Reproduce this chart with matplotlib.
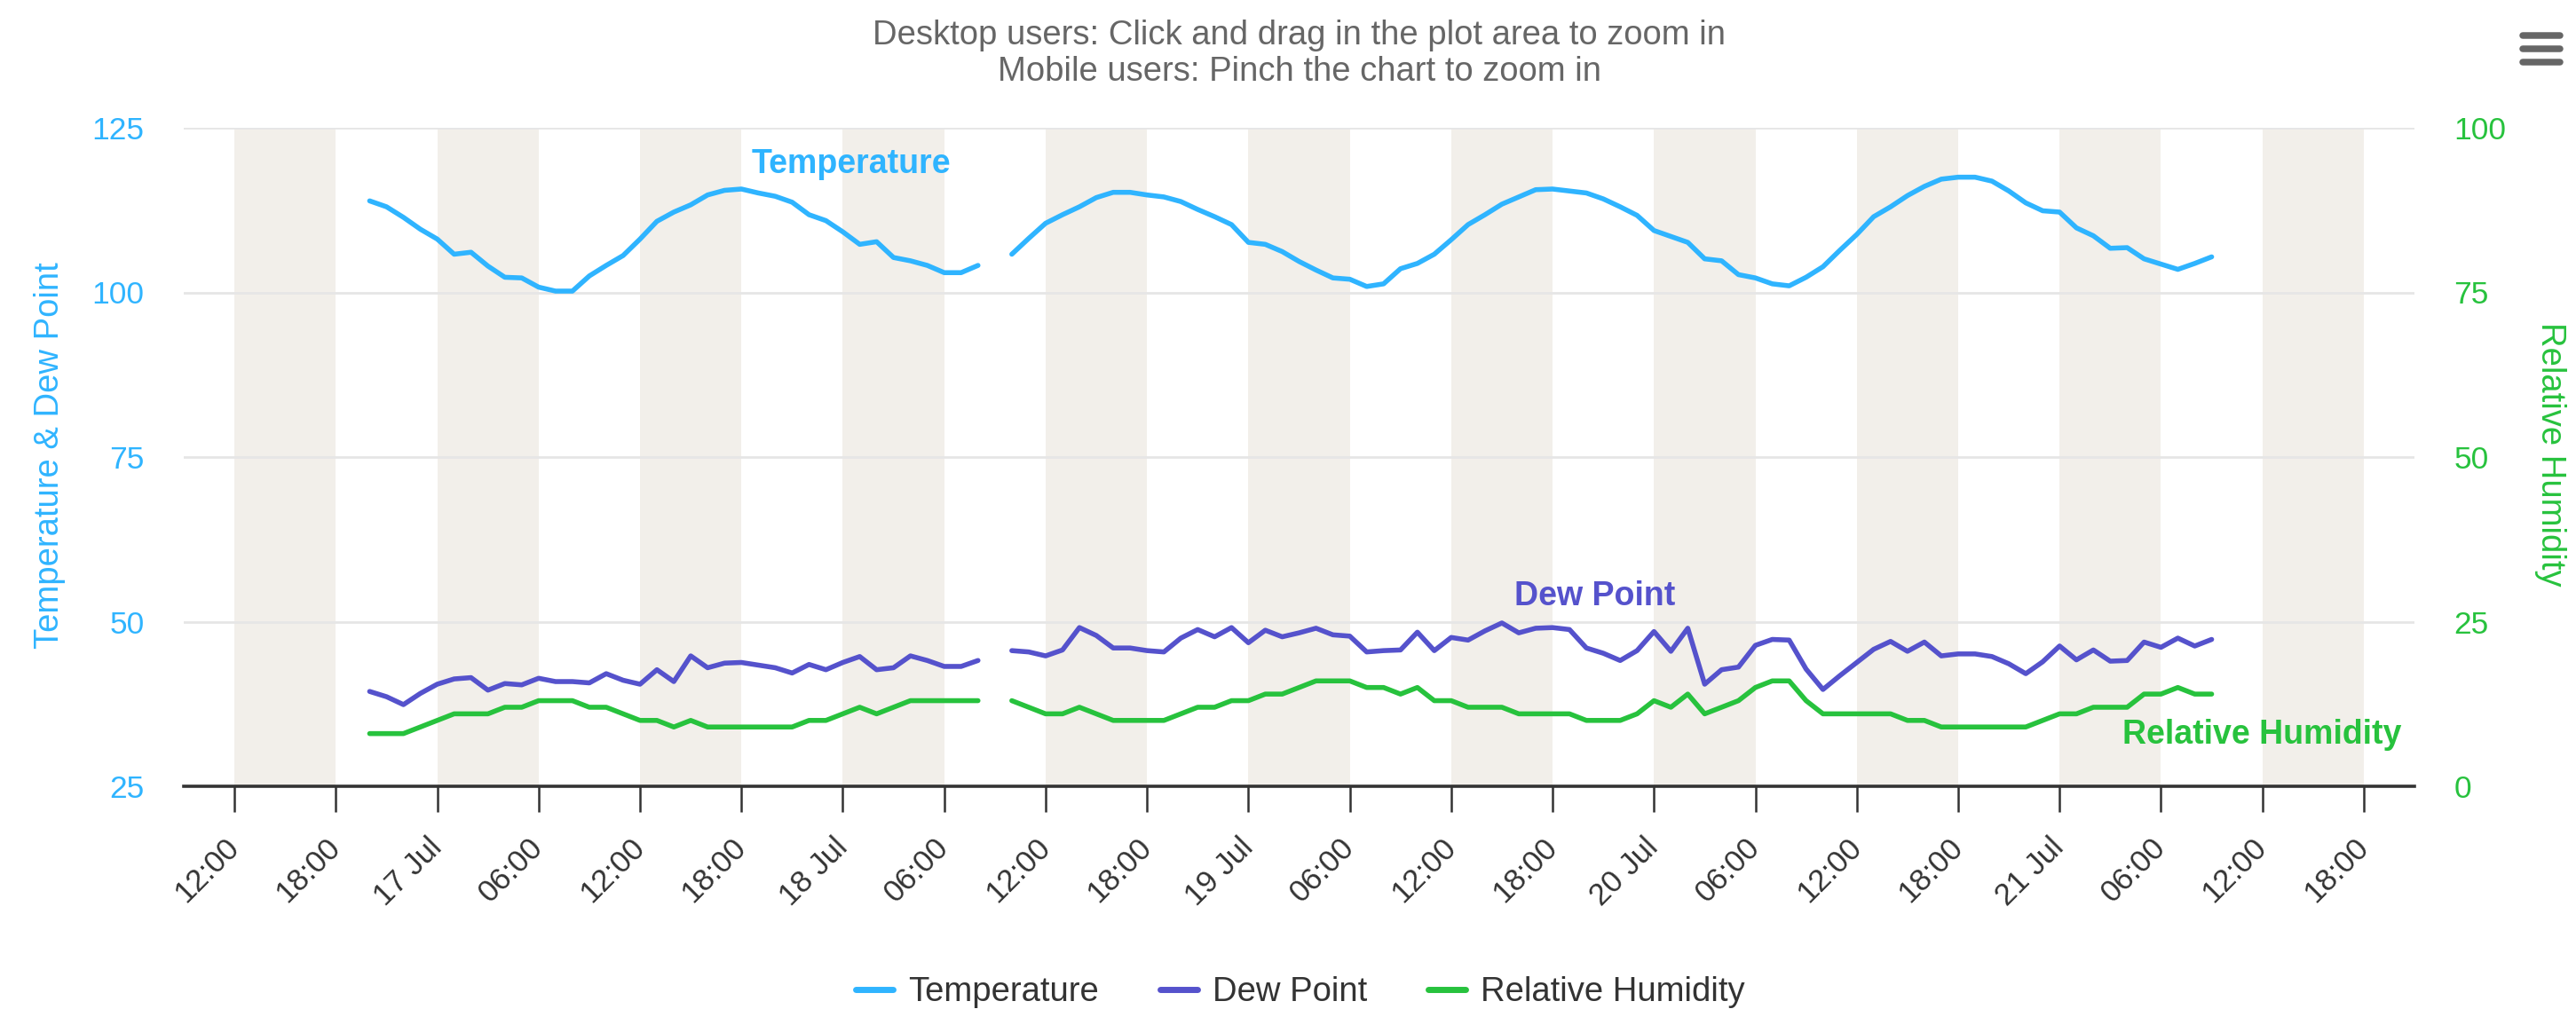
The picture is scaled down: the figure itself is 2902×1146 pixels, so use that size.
import numpy as np
import pandas as pd
import matplotlib
matplotlib.use('Agg')
import matplotlib.pyplot as plt
from matplotlib.lines import Line2D

plt.rcParams['font.family'] = ['Liberation Sans', 'DejaVu Sans']

nan = np.nan

# hourly readings, 16 Jul 20:00 -> 21 Jul 09:00 (18 Jul 09:00 missing)
times = pd.date_range('2024-07-16 20:00', '2024-07-21 09:00', freq='h')

temperature = [
    113.9, 113.0, 111.4, 109.6, 108.1, 105.8, 106.1, 104.0, 102.3, 102.2,
    100.8, 100.2, 100.2, 102.5, 104.1, 105.6, 108.1, 110.8, 112.2, 113.3,
    114.8, 115.5, 115.7, 115.1, 114.6, 113.7, 111.8, 110.9, 109.2, 107.3,
    107.7, 105.3, 104.8, 104.1, 103.0, 103.0, 104.1,
    nan,
    105.8, 108.2, 110.5, 111.8, 113.0, 114.4, 115.2, 115.2, 114.8, 114.5,
    113.8, 112.6, 111.5, 110.3, 107.6, 107.3, 106.2, 104.7, 103.4, 102.2,
    102.0, 100.9, 101.3, 103.6, 104.4, 105.8, 108.0, 110.3, 111.8, 113.4,
    114.5, 115.6, 115.7, 115.4, 115.1, 114.2, 113.0, 111.7, 109.4, 108.5,
    107.6, 105.1, 104.8, 102.7, 102.2, 101.3, 101.0, 102.3, 103.9, 106.4,
    108.8, 111.5, 113.0, 114.7, 116.1, 117.2, 117.5, 117.5, 116.9, 115.4,
    113.6, 112.4, 112.2, 109.8, 108.6, 106.7, 106.8, 105.1, 104.3, 103.5,
    104.4, 105.4,
]

dew_point = [
    39.4, 38.6, 37.4, 39.1, 40.5, 41.3, 41.5, 39.6, 40.6, 40.4,
    41.4, 40.9, 40.9, 40.7, 42.1, 41.1, 40.5, 42.7, 40.9, 44.8,
    43.0, 43.7, 43.8, 43.4, 43.0, 42.2, 43.5, 42.7, 43.8, 44.7,
    42.7, 43.0, 44.8, 44.1, 43.2, 43.2, 44.1,
    nan,
    45.6, 45.4, 44.8, 45.7, 49.1, 47.9, 46.0, 46.0, 45.6, 45.4,
    47.5, 48.8, 47.7, 49.1, 46.8, 48.7, 47.7, 48.3, 49.0, 48.0,
    47.8, 45.4, 45.6, 45.7, 48.4, 45.6, 47.6, 47.2, 48.6, 49.8,
    48.3, 49.0, 49.1, 48.8, 46.0, 45.2, 44.1, 45.6, 48.5, 45.5,
    49.0, 40.5, 42.7, 43.1, 46.4, 47.3,
    47.2, 42.8, 39.7, 41.8, 43.8, 45.8, 47.0, 45.5, 46.9, 44.8,
    45.1, 45.1, 44.7, 43.6, 42.1, 43.9, 46.3, 44.2, 45.7, 44.0,
    44.1, 46.9, 46.1, 47.5, 46.3, 47.3,
]

humidity = [
    8, 8, 8, 9, 10, 11, 11, 11, 12, 12,
    13, 13, 13, 12, 12, 11, 10, 10, 9, 10,
    9, 9, 9, 9, 9, 9, 10, 10, 11, 12,
    11, 12, 13, 13, 13, 13, 13,
    nan,
    13, 12, 11, 11, 12, 11, 10, 10, 10, 10,
    11, 12, 12, 13, 13, 14, 14, 15, 16, 16,
    16, 15, 15, 14, 15, 13, 13, 12, 12, 12,
    11, 11, 11, 11, 10, 10, 10, 11, 13, 12,
    14, 11, 12, 13, 15, 16,
    16, 13, 11, 11, 11, 11, 11, 10, 10, 9,
    9, 9, 9, 9, 9, 10, 11, 11, 12, 12,
    12, 14, 14, 15, 14, 14,
]

left_ticks = [25, 50, 75, 100, 125]
right_ticks = [0, 25, 50, 75, 100]
x_ticks = pd.date_range('2024-07-16 12:00', '2024-07-21 18:00', freq='6h')
band_starts = pd.date_range('2024-07-16 12:00', '2024-07-21 12:00', freq='12h')

temp_color = '#2fb4ff'
dew_color = '#5552cc'
rh_color = '#27c23d'
band_color = '#f2efea'
text_dark = '#333333'

W, H = 2902, 1146
fig = plt.figure(figsize=(W / 100, H / 100), dpi=100)
ax = fig.add_axes([207 / W, 1 - 886 / H, (2720 - 207) / W, (886 - 144) / H])
ax2 = ax.twinx()

# alternating 6h plot bands
for b in band_starts:
    ax.axvspan(b, b + pd.Timedelta(hours=6), color=band_color, lw=0, zorder=0)

line_kw = dict(lw=4.0, solid_joinstyle='round', solid_capstyle='round')
ax.plot(times, temperature, color=temp_color, zorder=3, **line_kw)
ax.plot(times, dew_point, color=dew_color, zorder=3, **line_kw)
ax2.plot(times, humidity, color=rh_color, zorder=3, **line_kw)

ax.set_xlim(pd.Timestamp('2024-07-16 09:00'), pd.Timestamp('2024-07-21 21:00'))
ax.set_ylim(25, 125)
ax2.set_ylim(0, 100)
ax.set_yticks(left_ticks)
ax2.set_yticks(right_ticks)

ax.grid(axis='y', color='#e6e6e6', lw=2)
ax.set_axisbelow(True)

for s in ['top', 'left', 'right']:
    ax.spines[s].set_visible(False)
for s in ax2.spines.values():
    s.set_visible(False)
ax.spines['bottom'].set_color(text_dark)
ax.spines['bottom'].set_linewidth(2.6)

x_labels = [t.strftime('%d %b') if t.hour == 0 else t.strftime('%H:%M') for t in x_ticks]
ax.set_xticks(x_ticks.to_pydatetime(), x_labels)
ax.tick_params(axis='x', length=21, width=1.8, color=text_dark, pad=25,
               labelsize=25, labelcolor=text_dark)
for lbl in ax.get_xticklabels():
    lbl.set_rotation(45)
    lbl.set_ha('right')
    lbl.set_va('center')
    lbl.set_rotation_mode('anchor')

ax.tick_params(axis='y', length=0, pad=32, labelsize=25.5, labelcolor=temp_color)
ax2.tick_params(axis='y', length=0, pad=32, labelsize=25.5, labelcolor=rh_color)

# axis titles
fig.text(56 / W, 1 - 513 / H, 'Temperature & Dew Point', rotation=90,
         ha='center', va='center', fontsize=27.5, color=temp_color)
fig.text(2873 / W, 1 - 512 / H, 'Relative Humidity', rotation=270,
         ha='center', va='center', fontsize=27.5, color=rh_color)

# subtitle
fig.text(1464 / W, 1 - 40 / H, 'Desktop users: Click and drag in the plot area to zoom in',
         ha='center', va='center', fontsize=27.5, color='#666666')
fig.text(1464 / W, 1 - 81 / H, 'Mobile users: Pinch the chart to zoom in',
         ha='center', va='center', fontsize=27.5, color='#666666')

# series labels
ax.text(pd.Timestamp('2024-07-18 00:30'), 118.1, 'Temperature', ha='center',
        va='baseline', fontsize=27, fontweight='bold', color=temp_color)
ax.text(pd.Timestamp('2024-07-19 20:30'), 52.5, 'Dew Point', ha='center',
        va='baseline', fontsize=27, fontweight='bold', color=dew_color)
ax.text(pd.Timestamp('2024-07-21 12:00'), 31.5, 'Relative Humidity', ha='center',
        va='baseline', fontsize=27, fontweight='bold', color=rh_color)

# legend
handles = [Line2D([], [], color=c, lw=5, solid_capstyle='round')
           for c in [temp_color, dew_color, rh_color]]
fig.legend(handles, ['Temperature', 'Dew Point', 'Relative Humidity'],
           loc='center', bbox_to_anchor=(1465 / W, 1 - 1118 / H), ncol=3,
           frameon=False, fontsize=27.5, handlelength=1.1, handletextpad=0.45,
           columnspacing=1.8, labelcolor=text_dark)

# menu icon
for yb in [40, 55, 70]:
    fig.add_artist(Line2D([2842 / W, 2884 / W], [1 - yb / H, 1 - yb / H],
                          transform=fig.transFigure, color='#666666', lw=5.4,
                          solid_capstyle='round'))

fig.savefig('out.png', dpi=100)
